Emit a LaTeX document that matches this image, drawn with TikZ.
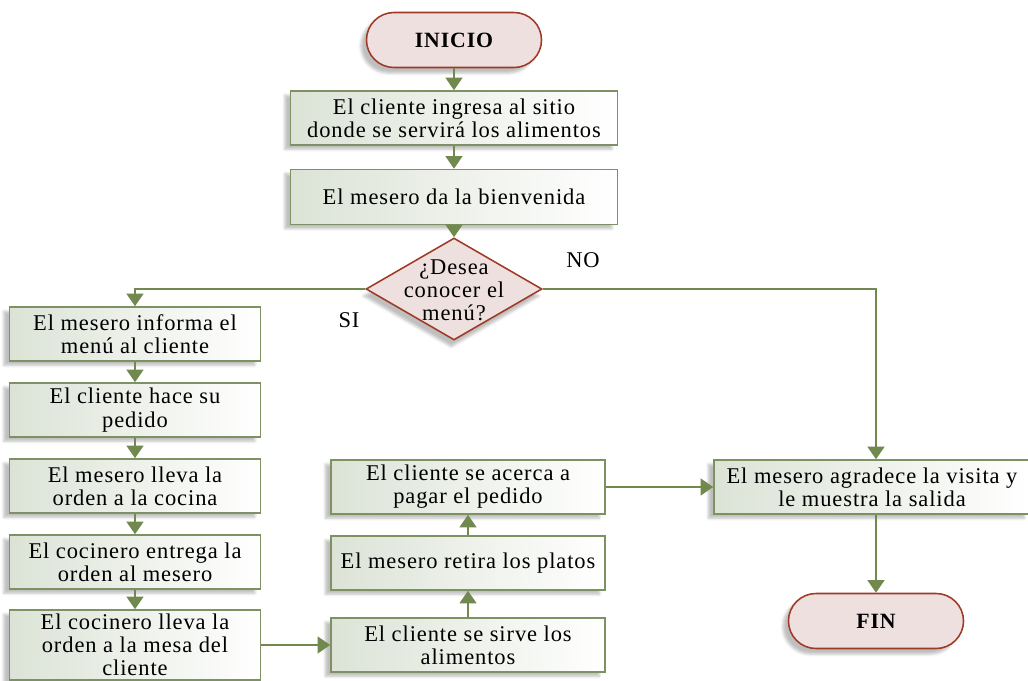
\documentclass[tikz,border=0pt]{standalone}
\usepackage{fontspec}
\setmainfont{Liberation Serif}[LetterSpace=4]
\usepackage{tikz}
\usetikzlibrary{arrows.meta,shapes.geometric,shadows.blur}
\definecolor{FLGreen}{HTML}{71894F}
\definecolor{FLBoxLine}{HTML}{7D9163}
\definecolor{FLBoxLeft}{HTML}{DCE3D6}
\definecolor{FLRed}{HTML}{9E3A26}
\definecolor{FLPink}{HTML}{EDE0DF}

\begin{document}
\begin{tikzpicture}[x=0.025cm,y=-0.025cm,
  txt/.style={font=\fontsize{16}{16.5}\selectfont},
  paso/.style={txt,draw=FLBoxLine,line width=1.1pt,left color=FLBoxLeft,right color=white,
    align=center,inner sep=1pt,blur shadow={shadow xshift=-4pt,shadow yshift=-3pt,shadow opacity=25}},
  term/.style={font=\fontsize{15.5}{17}\selectfont\bfseries,draw=FLRed,line width=1.1pt,fill=FLPink,
    rounded corners=0.6875cm,minimum width=4.375cm,minimum height=1.375cm,
    blur shadow={shadow xshift=-4pt,shadow yshift=-4pt,shadow opacity=25}},
  flecha/.style={FLGreen,line width=1.6pt,-{Triangle[width=12pt,length=9pt]}}]
\path[use as bounding box] (0,0) rectangle (1028,680);

\node[term] (inicio) at (454,40) {INICIO};
\node[paso,minimum width=8.175cm,minimum height=1.35cm] (ingreso) at (454,118) {El cliente ingresa al sitio\\donde se servirá los alimentos};
\node[paso,minimum width=8.175cm,minimum height=1.375cm] (bienvenida) at (454,197) {El mesero da la bienvenida};
\node[diamond,draw=FLRed,line width=1.1pt,fill=FLPink,minimum width=4.4cm,minimum height=2.55cm,inner sep=0pt,
  blur shadow={shadow xshift=-2pt,shadow yshift=-5pt,shadow opacity=25}] (desea) at (454,289) {};
\node[txt,align=center] (deseatxt) at (454,290) {¿Desea\\conocer el\\menú?};
\node[txt] (no) at (583,260) {NO};
\node[txt] (si) at (349,320) {SI};

\node[paso,minimum width=6.275cm,minimum height=1.35cm] (informa) at (135,334) {El mesero informa el\\menú al cliente};
\node[paso,minimum width=6.275cm,minimum height=1.35cm] (pedido) at (135,410) {El cliente hace su\\pedido};
\node[paso,minimum width=6.275cm,minimum height=1.35cm] (lleva) at (135,486) {El mesero lleva la\\orden a la cocina};
\node[paso,minimum width=6.275cm,minimum height=1.35cm] (entrega) at (135,562) {El cocinero entrega la\\orden al mesero};
\node[paso,minimum width=6.275cm,minimum height=1.75cm] (mesa) at (135,645) {El cocinero lleva la\\orden a la mesa del\\cliente};

\node[paso,minimum width=6.85cm,minimum height=1.35cm] (sirve) at (468,645) {El cliente se sirve los\\alimentos};
\node[paso,minimum width=6.85cm,minimum height=1.35cm] (retira) at (468,563) {El mesero retira los platos};
\node[paso,minimum width=6.85cm,minimum height=1.35cm] (pagar) at (468,487) {El cliente se acerca a\\pagar el pedido};

\node[paso,minimum width=7.9cm,minimum height=1.35cm] (agradece) at (872,487) {El mesero agradece la visita y\\le muestra la salida};
\node[term] (fin) at (876,621) {FIN};

\draw[flecha] (inicio) -- (ingreso);
\draw[flecha] (ingreso) -- (bienvenida);
\draw[flecha] (bienvenida) -- (desea);
\draw[flecha] (desea.west) -| (informa.north);
\draw[flecha] (desea.east) -| (agradece.north -| fin);
\draw[flecha] (informa) -- (pedido);
\draw[flecha] (pedido) -- (lleva);
\draw[flecha] (lleva) -- (entrega);
\draw[flecha] (entrega) -- (mesa);
\draw[flecha] (mesa) -- (sirve);
\draw[flecha] (sirve) -- (retira);
\draw[flecha] (retira) -- (pagar);
\draw[flecha] (pagar) -- (agradece);
\draw[flecha] (agradece.south -| fin) -- (fin);
\end{tikzpicture}
\end{document}
